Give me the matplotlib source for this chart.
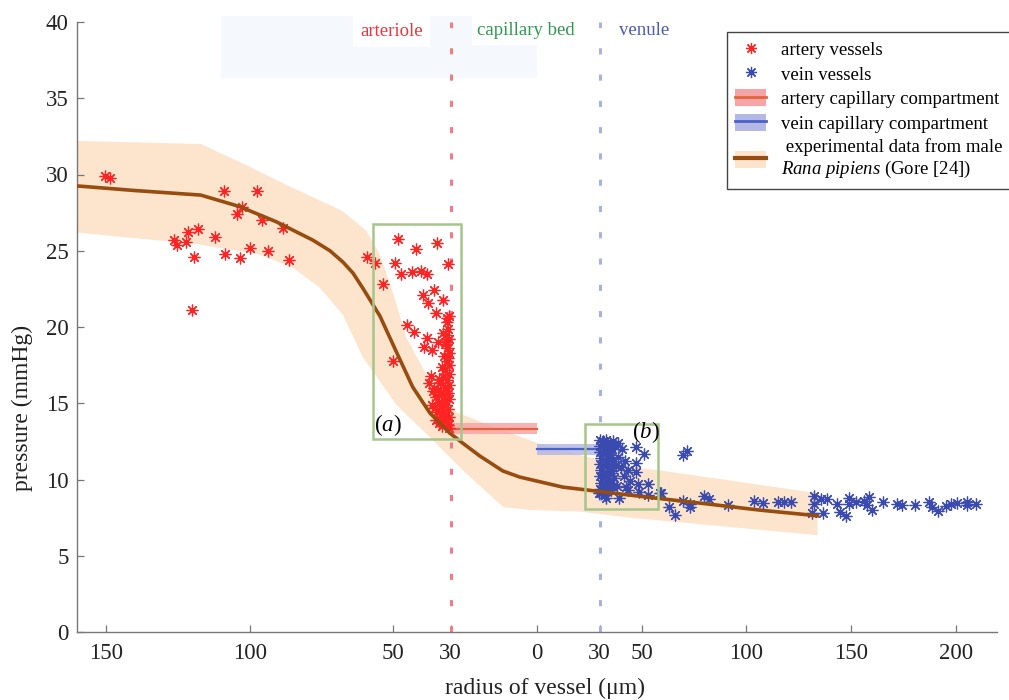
import numpy as np
import matplotlib
matplotlib.use('Agg')
import matplotlib.pyplot as plt
from matplotlib.patches import Rectangle, Patch
from matplotlib.lines import Line2D

plt.rcParams['font.family'] = ['Liberation Serif', 'DejaVu Serif']
plt.rcParams['mathtext.fontset'] = 'custom'
plt.rcParams['mathtext.rm'] = 'Liberation Serif'
plt.rcParams['mathtext.it'] = 'Liberation Serif:italic'

# ---------------- data ----------------
# artery vessels: radius (um), pressure (mmHg)
artery_r = [150.5, 148.5, 126.4, 125.2, 122.2, 121.3, 118.1, 119.2, 120.0, 112.1,
            108.8, 108.5, 104.3, 102.5, 103.4, 99.8, 97.3, 95.5, 93.5, 88.5,
            86.3, 59.1, 56.4, 53.7, 48.4, 41.9, 34.7, 30.8, 49.5, 47.1,
            43.4, 40.3, 38.1, 39.6, 35.9, 38.0, 32.8, 35.1, 31.1, 45.2,
            42.9, 38.2, 34.4, 39.4, 36.5, 50.1, 36.9, 37.5,
            30.5, 31.2, 30.8, 31.5, 30.4, 32.0, 31.0, 30.6, 32.4, 31.3,
            30.5, 33.0, 31.8, 30.7, 32.6, 31.2, 33.8, 30.5, 32.0, 34.5,
            31.0, 33.2, 35.2, 30.6, 32.4, 34.0, 31.5, 33.5, 35.5, 30.8,
            32.8, 34.6, 31.9, 30.5, 33.6, 35.0, 32.2, 31.0, 33.0, 34.2,
            30.4, 36.0, 36.3, 31.6, 30.9, 32.8, 34.0, 35.8, 33.1, 31.4]
artery_p = [29.9, 29.8, 25.7, 25.4, 25.6, 26.2, 26.4, 24.6, 21.1, 25.9,
            28.9, 24.8, 27.4, 27.9, 24.5, 25.2, 28.9, 27.0, 25.0, 26.5,
            24.4, 24.6, 24.2, 22.8, 25.8, 25.1, 25.5, 24.1, 24.2, 23.5,
            23.6, 23.7, 23.5, 22.1, 22.4, 21.6, 21.8, 20.9, 20.6, 20.1,
            19.7, 19.3, 19.0, 18.7, 18.5, 17.8, 16.8, 16.3,
            20.7, 20.3, 19.9, 19.5, 19.2, 18.9, 18.6, 18.3, 18.1, 17.8,
            17.5, 17.4, 17.2, 16.9, 16.7, 16.5, 16.3, 16.2, 16.0, 15.9,
            15.7, 15.6, 15.4, 15.3, 15.2, 15.0, 14.9, 14.8, 14.7, 14.6,
            14.5, 14.4, 14.2, 14.1, 14.0, 13.9, 13.8, 13.6, 13.5, 13.7,
            13.4, 15.8, 14.9, 19.0, 18.0, 19.6, 16.6, 16.0, 14.3, 13.9]

# vein vessels: radius (um), pressure (mmHg)
vein_r = [30.2, 31.5, 33.0, 34.8, 36.5, 30.4, 32.2, 34.0, 35.8, 37.4,
          30.1, 31.8, 33.5, 35.2, 30.6, 32.6, 34.4, 36.2, 30.3, 31.9,
          33.7, 35.5, 37.8, 30.5, 32.3, 34.1, 36.0, 30.2, 31.7, 33.4,
          35.1, 37.0, 30.6, 32.5, 34.3, 36.4, 30.3, 31.9, 33.8, 35.6,
          38.5, 30.8, 32.8, 39.0, 40.2, 41.5, 38.8, 40.5, 42.0, 43.5,
          44.5, 42.8, 47.5, 51.4, 47.5, 47.5, 53.0, 48.2, 49.0, 53.0,
          59.4, 43.5, 39.5, 33.2, 29.7, 69.7, 71.6, 63.3, 66.2, 69.7,
          72.9, 80.0, 82.0, 91.1, 103.8, 107.8, 114.9, 118.1, 121.3, 132.4,
          132.4, 131.3, 136.8, 135.6, 138.7, 143.2, 144.8, 147.5, 149.0, 149.0,
          152.2, 156.2, 158.6, 157.8, 160.2, 165.2, 172.0, 174.4, 180.3, 187.1,
          188.4, 191.4, 195.1, 197.5, 200.6, 205.4, 205.4, 209.4, 73.0, 58.7]
vein_p = [12.6, 12.5, 12.6, 12.4, 12.5, 12.2, 12.1, 12.2, 12.0, 12.2,
          11.8, 11.7, 11.8, 11.6, 11.4, 11.3, 11.4, 11.2, 11.0, 10.9,
          11.0, 10.8, 10.9, 10.6, 10.5, 10.6, 10.4, 10.2, 10.1, 10.2,
          10.0, 10.1, 9.8, 9.7, 9.8, 9.6, 9.4, 9.3, 9.5, 9.3,
          9.6, 9.1, 9.0, 11.5, 10.8, 10.2, 12.4, 12.0, 11.2, 10.6,
          9.9, 9.5, 12.1, 11.7, 11.1, 10.5, 9.7, 9.7, 9.2, 9.0,
          9.1, 9.3, 8.8, 8.8, 9.1, 11.6, 11.85, 8.2, 7.65, 8.6,
          8.4, 8.9, 8.7, 8.3, 8.6, 8.45, 8.55, 8.5, 8.5, 8.9,
          8.4, 7.8, 7.8, 8.7, 8.75, 8.4, 7.9, 7.6, 8.8, 8.4,
          8.5, 8.6, 8.85, 8.3, 8.0, 8.5, 8.4, 8.35, 8.35, 8.5,
          8.2, 7.95, 8.25, 8.4, 8.45, 8.5, 8.3, 8.4, 8.2, 9.1]

# experimental curve (Gore): signed radius (artery negative, vein positive)
exp_u = [-160, -140, -117, -103.5, -90.7, -78.0, -72.0, -67.5, -64.0, -60.6,
         -54.6, -48.7, -43.2, -37.2, -30.3, -25.8, -19.8, -11.8, -5.9, 0,
         12.5, 28.4, 44.3, 55.4, 80, 106, 134]
exp_p = [29.25, 28.95, 28.65, 27.9, 26.9, 25.7, 25.0, 24.26, 23.54, 22.56,
         20.72, 18.3, 16.07, 14.36, 13.05, 12.39, 11.54, 10.56, 10.16, 9.9,
         9.5, 9.24, 8.98, 8.8, 8.42, 8.0, 7.62]
band_up_u = [-160, -117, -101, -87, -67.6, -59.3, -54.7, -50, -45.4, -37.3, -28,
             -14, 0, 23.7, 44.3, 58.6, 134]
band_up_p = [32.2, 32.0, 30.6, 29.3, 27.6, 26.3, 24.8, 22.2, 19.3, 16.5, 14.4,
             13.4, 12.4, 11.5, 10.8, 10.6, 9.1]
band_lo_u = [-160, -117, -96.5, -85, -75.6, -67.5, -60.5, -48.9, -37.3, -25.7,
             -11.7, -2.4, 20.5, 44.3, 134]
band_lo_p = [26.2, 25.4, 24.75, 23.9, 22.6, 20.8, 18.0, 14.9, 12.8, 10.6,
             8.2, 8.0, 7.9, 7.5, 6.35]

# capillary compartments: span (signed radius), mean pressure, half band
art_cap_u = [-30, 0]
art_cap_p = 13.33
art_cap_sd = 0.35
vein_cap_u = [0, 30]
vein_cap_p = 11.97
vein_cap_sd = 0.35

xtick_vals = [-150, -100, -50, -30, 0, 30, 50, 100, 150, 200]
xtick_labels = ['150', '100', '50', '30', '0', '30', '50', '100', '150', '200']
ytick_vals = [0, 5, 10, 15, 20, 25, 30, 35, 40]

# ---------------- figure ----------------
K = 0.73


def fwd(u):
    u = np.asarray(u, float)
    return np.where(u < 0, u, u * K)


def inv(v):
    v = np.asarray(v, float)
    return np.where(v < 0, v, v / K)


fig = plt.figure(figsize=(10.09, 7.0), dpi=100)
ax = fig.add_axes([77 / 1009, 68 / 700, 920 / 1009, 610 / 700])
ax.set_xscale('function', functions=(fwd, inv))
ax.set_xlim(-160.1, 219.6)
ax.set_ylim(0, 40)

# top faint blue area
ax.add_patch(Rectangle((-110, 36.3), 110, 4.1, facecolor='#f5f9fd', edgecolor='none',
                       clip_on=False, zorder=0))

# experimental band and curve
band_x = np.r_[band_up_u, band_lo_u[::-1]]
band_y = np.r_[band_up_p, band_lo_p[::-1]]
ax.fill(band_x, band_y, facecolor='#fde4cc', edgecolor='none', zorder=1)

# dashed separators
ax.axvline(-30, color='#f07c86', lw=2.2, dashes=(2.0, 6.6), zorder=2)
ax.axvline(30, color='#a9b0e2', lw=2.2, dashes=(2.0, 6.6), zorder=2)

# compartments
ax.fill_between(art_cap_u, art_cap_p - art_cap_sd, art_cap_p + art_cap_sd,
                facecolor='#f5a5a8', edgecolor='none', alpha=0.85, zorder=3)
ax.plot(art_cap_u, [art_cap_p] * 2, color='#e0653f', lw=1.6, zorder=3)
ax.fill_between(vein_cap_u, vein_cap_p - vein_cap_sd, vein_cap_p + vein_cap_sd,
                facecolor='#b5b8e4', edgecolor='none', alpha=0.85, zorder=3)
ax.plot(vein_cap_u, [vein_cap_p] * 2, color='#4a62c4', lw=1.6, zorder=3)

# points
star = (8, 2, 0)
ax.plot(-np.asarray(artery_r), artery_p, ls='none', marker=star, ms=8.5,
        mec='#ff2424', mew=0.9, zorder=4)
ax.plot(vein_r, vein_p, ls='none', marker=star, ms=8.5,
        mec='#3a4aae', mew=0.9, zorder=4)

ax.plot(exp_u, exp_p, color='#974c10', lw=2.6, zorder=5, solid_joinstyle='round')

# boxes (a) and (b)
ax.add_patch(Rectangle((-57.0, 12.66), 30.8, 14.09, facecolor='none',
                       edgecolor='#a6c58c', lw=1.8, zorder=6))
ax.add_patch(Rectangle((22.9, 8.08), 35.2, 5.56, facecolor='none',
                       edgecolor='#a6c58c', lw=1.8, zorder=6))
ax.text(-51.7, 13.6, '($\\it{a}$)', fontsize=16.5, ha='center', va='center', zorder=7)
ax.text(52.3, 13.1, '($\\it{b}$)', fontsize=16.5, ha='center', va='center', zorder=7)

# region labels
ax.text(-50.6, 39.4, 'arteriole', color='#e8353f', fontsize=13.5, ha='center',
        va='center', bbox=dict(facecolor='white', edgecolor='none', pad=5), zorder=3)
ax.text(-3.65, 39.45, 'capillary bed', color='#2e9a50', fontsize=13.5, ha='center',
        va='center', bbox=dict(facecolor='white', edgecolor='none', pad=4), zorder=3)
ax.text(51.1, 39.45, 'venule', color='#4a5ab5', fontsize=13.5, ha='center', va='center')

# axes styling
for s in ['top', 'right']:
    ax.spines[s].set_visible(False)
for s in ['left', 'bottom']:
    ax.spines[s].set_color('#777777')
    ax.spines[s].set_linewidth(1.0)
ax.set_xticks(xtick_vals)
ax.set_xticklabels(xtick_labels)
ax.set_yticks(ytick_vals)
ax.xaxis.set_minor_locator(matplotlib.ticker.NullLocator())
ax.tick_params(direction='in', length=5, width=0.9, color='#777777', labelsize=16.5,
               labelcolor='#222222')
ax.tick_params(axis='x', pad=8)
ax.tick_params(axis='y', pad=6)
ax.set_xlabel('radius of vessel (μm)', fontsize=17, color='#222222', va='center')
ax.xaxis.set_label_coords((545 - 77) / 920, -(688 - 632) / 610)
ax.set_ylabel('pressure (mmHg)', fontsize=17, color='#222222', va='center')
ax.yaxis.set_label_coords(-(77 - 22) / 920, (632 - 408) / 610)

# legend
h_art = Line2D([], [], ls='none', marker=star, ms=8, mec='#ff2424', mew=0.9)
h_vein = Line2D([], [], ls='none', marker=star, ms=8, mec='#3a4aae', mew=0.9)
h_acap = (Patch(facecolor='#f5a5a8', edgecolor='none'),
          Line2D([], [], color='#e0653f', lw=2))
h_vcap = (Patch(facecolor='#b5b8e4', edgecolor='none'),
          Line2D([], [], color='#4a62c4', lw=2))
h_exp = (Patch(facecolor='#fde4cc', edgecolor='none'),
         Line2D([], [], color='#974c10', lw=3))
labels = ['artery vessels', 'vein vessels', 'artery capillary compartment',
          'vein capillary compartment',
          ' experimental data from male\n$\\it{Rana\\ pipiens}$ (Gore [24])']
leg = fig.legend([h_art, h_vein, h_acap, h_vcap, h_exp], labels,
                 loc='upper left', bbox_to_anchor=(727 / 1009, 1 - 32 / 700),
                 bbox_transform=fig.transFigure, fontsize=13.5, frameon=True,
                 fancybox=False, framealpha=1, edgecolor='#444444',
                 borderpad=0.45, labelspacing=0.3, handlelength=1.65,
                 handleheight=1.0, handletextpad=0.8, borderaxespad=0)
leg.get_frame().set_linewidth(1.0)

fig.savefig('out.png', dpi=100)
